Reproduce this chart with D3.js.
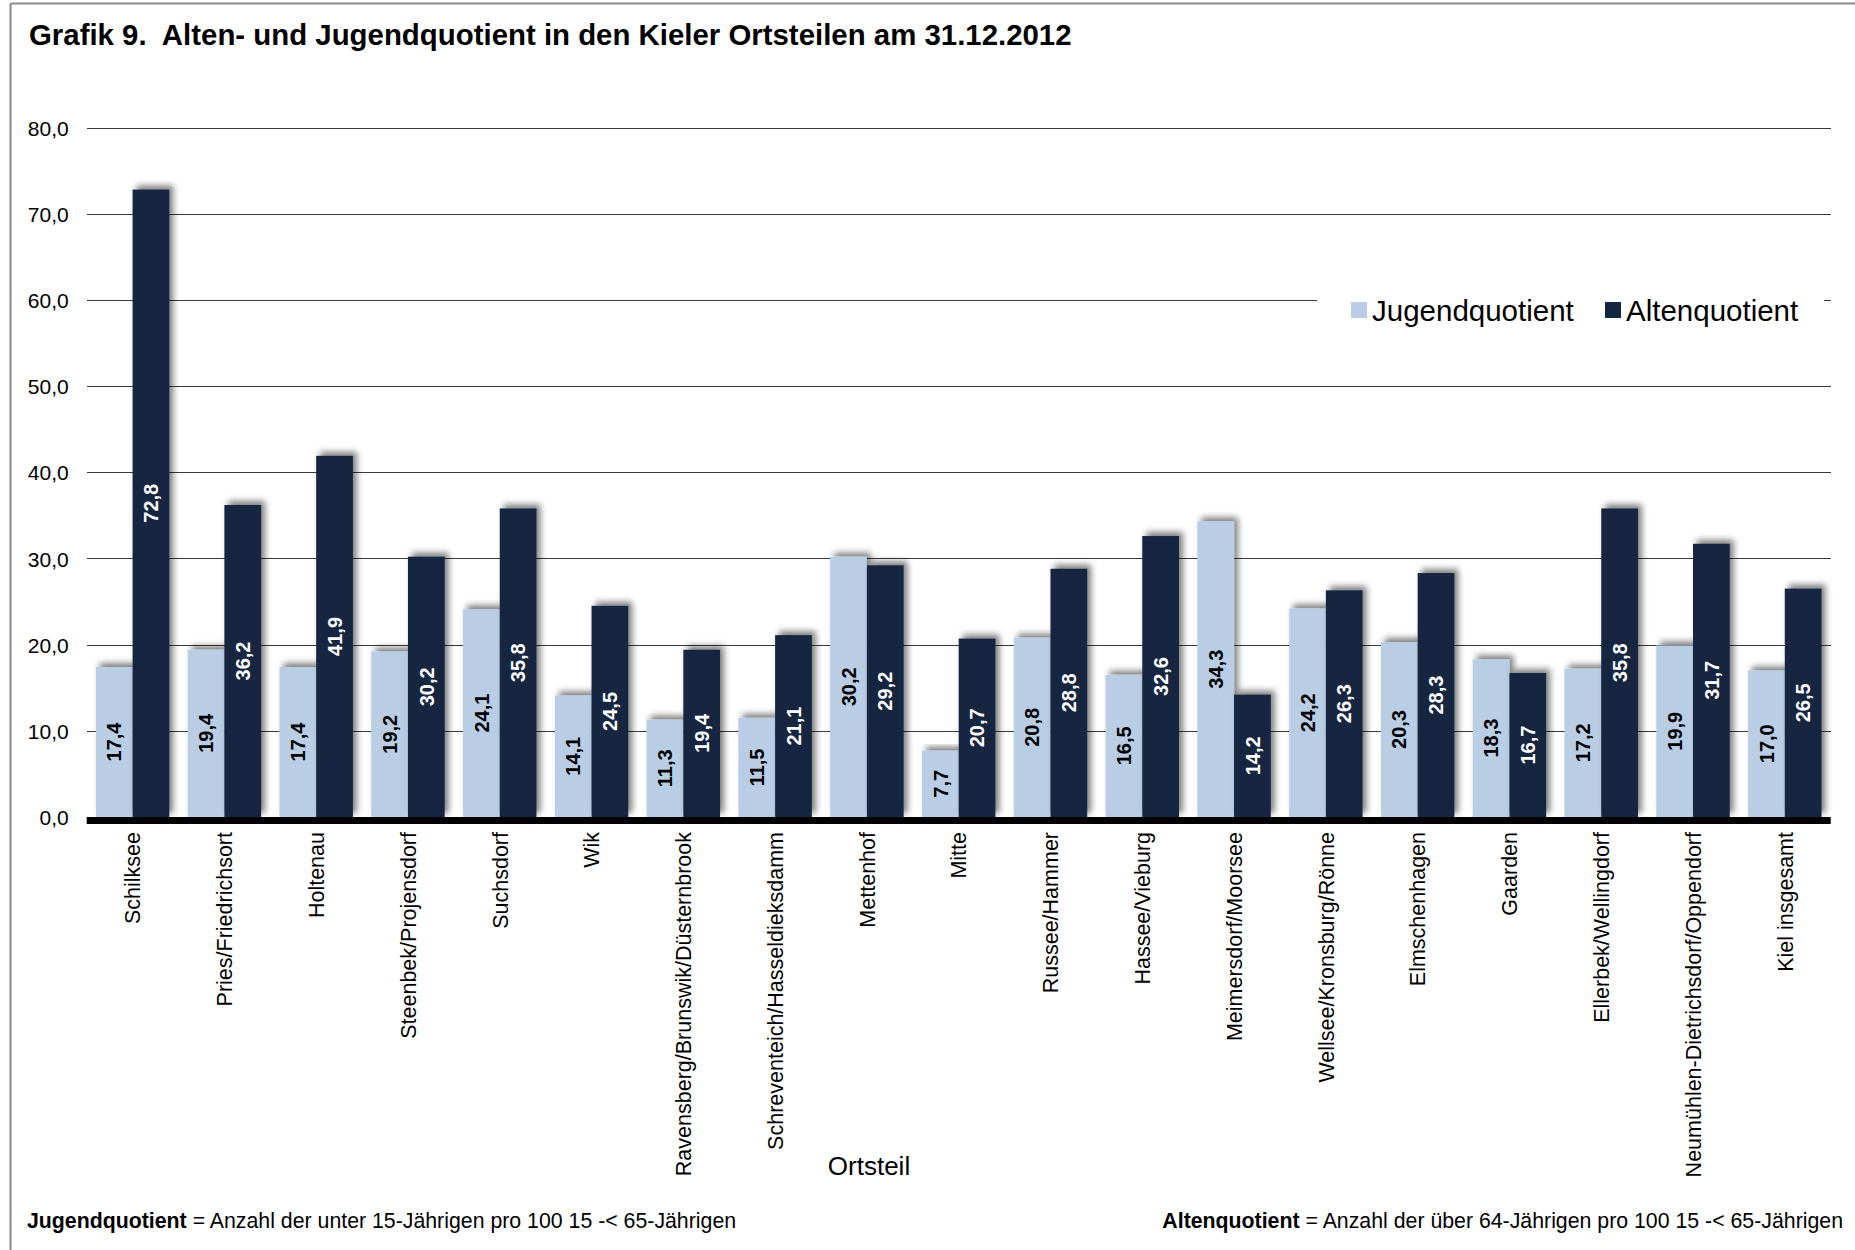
<!DOCTYPE html>
<html lang="de">
<head>
<meta charset="utf-8">
<title>Alten- und Jugendquotient in den Kieler Ortsteilen</title>
<script src="https://cdn.jsdelivr.net/npm/d3@7"></script>
<style>
  html, body { margin: 0; padding: 0; background: #fff; }
  svg text { font-family: "Liberation Sans", Arial, sans-serif; fill: #000; }
  .grid line { stroke: #3a3a3a; stroke-width: 1; shape-rendering: crispEdges; }
  .grid path { display: none; }
  .yaxis path, .yaxis line { display: none; }
  .yaxis text { font-size: 21px; }
  .cat text { font-size: 21.5px; }
  .val { font-size: 20px; font-weight: bold; }
</style>
</head>
<body>
<div id="chart"></div>
<script>
// Ortsteile of Kiel
var ortsteile = ["Schilksee", "Pries/Friedrichsort", "Holtenau", "Steenbek/Projensdorf",
  "Suchsdorf", "Wik", "Ravensberg/Brunswik/Düsternbrook", "Schreventeich/Hasseldieksdamm",
  "Mettenhof", "Mitte", "Russee/Hammer", "Hassee/Vieburg", "Meimersdorf/Moorsee",
  "Wellsee/Kronsburg/Rönne", "Elmschenhagen", "Gaarden", "Ellerbek/Wellingdorf",
  "Neumühlen-Dietrichsdorf/Oppendorf", "Kiel insgesamt"];

var jugendquotient = [17.4, 19.4, 17.4, 19.2, 24.1, 14.1, 11.3, 11.5, 30.2, 7.7,
  20.8, 16.5, 34.3, 24.2, 20.3, 18.3, 17.2, 19.9, 17.0];

var altenquotient = [72.8, 36.2, 41.9, 30.2, 35.8, 24.5, 19.4, 21.1, 29.2, 20.7,
  28.8, 32.6, 14.2, 26.3, 28.3, 16.7, 35.8, 31.7, 26.5];

var serien = ["Jugendquotient", "Altenquotient"];
var farben = ["#b9cde4", "#13253f"];
var yTicks = [0, 10, 20, 30, 40, 50, 60, 70, 80];

var W = 1855, H = 1250;
var left = 86.7, right = 1830.7, y0 = 817, yTop = 127.5;

var svg = d3.select("#chart").append("svg")
  .attr("width", W).attr("height", H);

// drop shadow like the office chart
var defs = svg.append("defs");
var f = defs.append("filter").attr("id", "shadow")
  .attr("x", "-30%").attr("y", "-10%").attr("width", "160%").attr("height", "120%");
f.append("feDropShadow").attr("dx", 4).attr("dy", -4).attr("stdDeviation", 3)
  .attr("flood-color", "#000").attr("flood-opacity", 0.5);

// frame (left + top visible)
svg.append("line").attr("x1", 10.5).attr("x2", 10.5).attr("y1", 3.5).attr("y2", H)
  .attr("stroke", "#8a8a8a").attr("stroke-width", 2);
svg.append("line").attr("x1", 10.5).attr("x2", W).attr("y1", 3.5).attr("y2", 3.5)
  .attr("stroke", "#8a8a8a").attr("stroke-width", 2);

// title
svg.append("text")
  .attr("x", 29).attr("y", 45)
  .style("font-size", "29.4px").style("font-weight", "bold")
  .attr("xml:space", "preserve")
  .text("Grafik 9.  Alten- und Jugendquotient in den Kieler Ortsteilen am 31.12.2012");

var x0 = d3.scaleBand().domain(ortsteile).range([left, right])
  .paddingInner(0.2).paddingOuter(0.1);
var x1 = d3.scaleBand().domain(serien).range([0, x0.bandwidth()]);
var y = d3.scaleLinear().domain([0, 80]).range([y0, yTop]);

// gridlines
svg.append("g").attr("class", "grid")
  .attr("transform", "translate(" + left + ",0)")
  .call(d3.axisLeft(y).tickValues(yTicks.slice(1)).tickSize(-(right - left)).tickFormat(""));

// y labels
svg.append("g").attr("class", "yaxis")
  .attr("transform", "translate(" + (left - 18) + ",0)")
  .call(d3.axisLeft(y).tickValues(yTicks).tickSize(0)
    .tickFormat(function(d) { return d3.format(".1f")(d).replace(".", ","); }));
svg.selectAll(".yaxis text").attr("x", 0).attr("dy", "0.36em").style("text-anchor", "end");

// bars
var rows = ortsteile.map(function(o, i) {
  return { name: o, values: [jugendquotient[i], altenquotient[i]] };
});

var grp = svg.append("g").selectAll("g").data(rows).enter().append("g")
  .attr("transform", function(d) { return "translate(" + x0(d.name) + ",0)"; });

grp.selectAll("rect")
  .data(function(d) { return d.values.map(function(v, k) { return { key: serien[k], k: k, value: v }; }); })
  .enter().append("rect")
  .attr("x", function(d) { return x1(d.key); })
  .attr("y", function(d) { return y(d.value); })
  .attr("width", x1.bandwidth())
  .attr("height", function(d) { return y(0) - y(d.value); })
  .attr("fill", function(d) { return farben[d.k]; })
  .attr("filter", "url(#shadow)");

grp.selectAll("text.val")
  .data(function(d) { return d.values.map(function(v, k) { return { key: serien[k], k: k, value: v }; }); })
  .enter().append("text")
  .attr("class", "val")
  .attr("transform", function(d) {
    var cx = x1(d.key) + x1.bandwidth() / 2;
    var cy = (y(0) + y(d.value)) / 2;
    return "translate(" + cx + "," + cy + ") rotate(-90)";
  })
  .attr("text-anchor", "middle")
  .attr("dy", "0.36em")
  .style("fill", function(d) { return d.k === 0 ? "#000" : "#fff"; })
  .text(function(d) { return d3.format(".1f")(d.value).replace(".", ","); });

// x axis base line
svg.append("line").attr("x1", left).attr("x2", right)
  .attr("y1", y0 + 3.5).attr("y2", y0 + 3.5)
  .attr("stroke", "#000").attr("stroke-width", 7);

// category labels
var cat = svg.append("g").attr("class", "cat");
cat.selectAll("text").data(ortsteile).enter().append("text")
  .attr("transform", function(d) {
    return "translate(" + (x0(d) + x0.bandwidth() / 2) + "," + 832 + ") rotate(-90)";
  })
  .attr("text-anchor", "end")
  .attr("dy", "0.36em")
  .text(function(d) { return d; });

// axis title
svg.append("text").attr("x", 869).attr("y", 1175)
  .attr("text-anchor", "middle").style("font-size", "26px").text("Ortsteil");

// legend
var lg = svg.append("g");
lg.append("rect").attr("x", 1317).attr("y", 282).attr("width", 507).attr("height", 56).attr("fill", "#fff");
var legX = [1351, 1605];
serien.forEach(function(s, i) {
  lg.append("rect").attr("x", legX[i]).attr("y", 302).attr("width", 16).attr("height", 16)
    .attr("fill", farben[i]);
  lg.append("text").attr("x", legX[i] + 21).attr("y", 310).attr("dy", "0.36em")
    .style("font-size", "29.5px").text(s);
});

// footnotes
var fl = svg.append("text").attr("x", 27).attr("y", 1228).style("font-size", "21.3px");
fl.append("tspan").style("font-weight", "bold").text("Jugendquotient");
fl.append("tspan").text(" = Anzahl der unter 15-Jährigen pro 100 15 -< 65-Jährigen");

var fr = svg.append("text").attr("x", 1843).attr("y", 1228).attr("text-anchor", "end").style("font-size", "21.3px");
fr.append("tspan").style("font-weight", "bold").text("Altenquotient");
fr.append("tspan").text(" = Anzahl der über 64-Jährigen pro 100 15 -< 65-Jährigen");
</script>
</body>
</html>
